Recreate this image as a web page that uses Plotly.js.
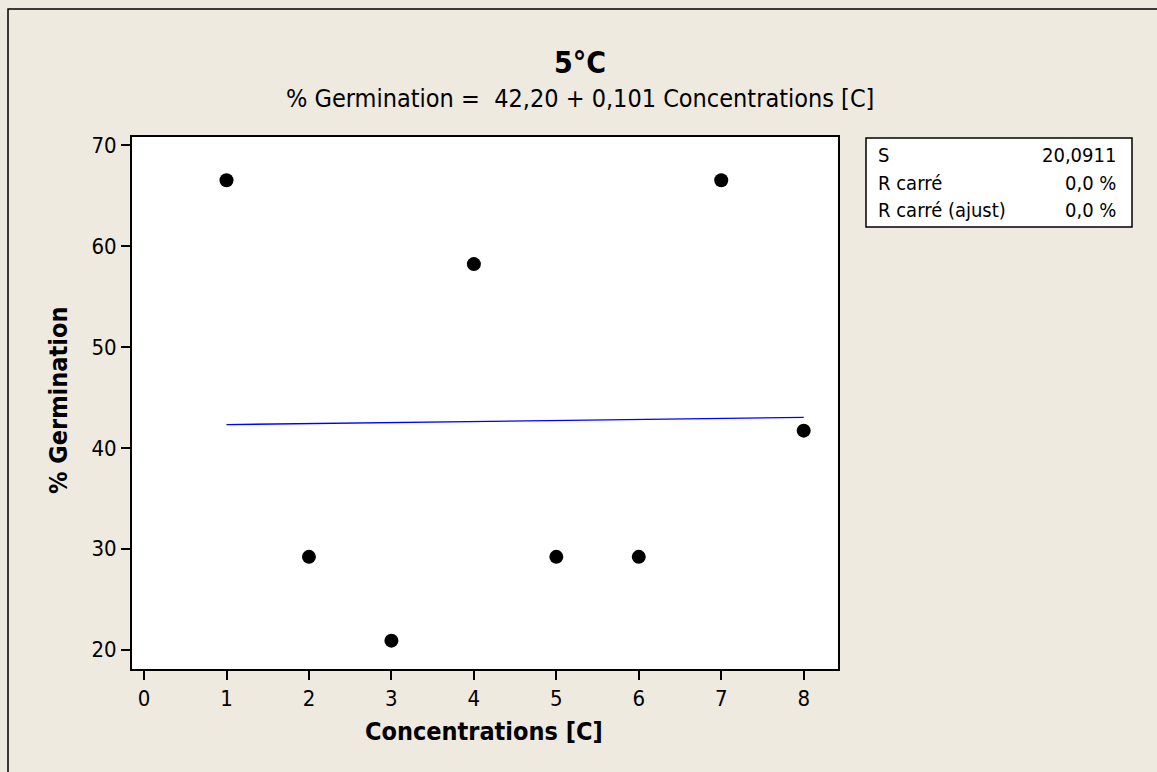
<!DOCTYPE html>
<html>
<head>
<meta charset="utf-8">
<script src="https://cdn.plot.ly/plotly-3.0.1.min.js"></script>
<style>html,body{margin:0;padding:0;background:#EEEAE0;}</style>
</head>
<body>
<div id="chart" style="width:1157px;height:772px;"></div>
<script>
// Data
const concentrations = [1, 2, 3, 4, 5, 6, 7, 8];
const germination = [66.5, 29.2, 20.9, 58.2, 29.2, 29.2, 66.5, 41.7];
// Fitted regression line: % Germination = 42,20 + 0,101 Concentrations
const fitX = [1, 8];
const fitY = [42.30, 43.01];
const xTicks = [0, 1, 2, 3, 4, 5, 6, 7, 8];
const yTicks = [20, 30, 40, 50, 60, 70];
const statLabels = ["S", "R carré", "R carré (ajust)"];
const statValues = ["20,0911", "0,0 %", "0,0 %"];

const FONT = "DejaVu Sans Condensed, DejaVu Sans, Verdana, sans-serif";

const traces = [
  {x: fitX, y: fitY, type: "scatter", mode: "lines",
   line: {color: "#0000FF", width: 1.3}, hoverinfo: "skip"},
  {x: concentrations, y: germination, type: "scatter", mode: "markers",
   marker: {color: "#000000", size: 14, symbol: "circle"}}
];

// pixel helpers: plot area 132..838 x, 137..669 y
const L = 132, R = 838, T = 137, B = 669;
const px = v => (v - L) / (R - L);
const py = v => (B - v) / (B - T);

const annotations = [
  {text: "<b>5°C</b>", xref: "paper", yref: "paper", x: px(580), y: py(63),
   showarrow: false, font: {family: FONT, size: 30, color: "#000"}, xanchor: "center", yanchor: "middle"},
  {text: "% Germination =  42,20 + 0,101 Concentrations [C]", xref: "paper", yref: "paper", x: px(580), y: py(98),
   showarrow: false, font: {family: FONT, size: 25, color: "#000"}, xanchor: "center", yanchor: "middle"},
  {text: "<b>Concentrations [C]</b>", xref: "paper", yref: "paper", x: px(484), y: py(731),
   showarrow: false, font: {family: FONT, size: 25, color: "#000"}, xanchor: "center", yanchor: "middle"},
  {text: "<b>% Germination</b>", xref: "paper", yref: "paper", x: px(58), y: py(401), textangle: -90,
   showarrow: false, font: {family: FONT, size: 25, color: "#000"}, xanchor: "center", yanchor: "middle"}
];
const rowY = [155, 183, 210];
statLabels.forEach((s, i) => {
  annotations.push({text: s, xref: "paper", yref: "paper", x: px(876), y: py(rowY[i]),
    showarrow: false, font: {family: FONT, size: 20, color: "#000"}, xanchor: "left", yanchor: "middle"});
  annotations.push({text: statValues[i], xref: "paper", yref: "paper", x: px(1118), y: py(rowY[i]),
    showarrow: false, font: {family: FONT, size: 20, color: "#000"}, xanchor: "right", yanchor: "middle"});
});

const shapes = [
  {type: "rect", xref: "paper", yref: "paper", x0: px(8), x1: px(1200), y0: py(800), y1: py(9),
   line: {color: "#000", width: 1.5}, fillcolor: "rgba(0,0,0,0)", layer: "below"},
  {type: "rect", xref: "paper", yref: "paper", x0: px(866), x1: px(1132), y0: py(227), y1: py(138),
   line: {color: "#000", width: 1.5}, fillcolor: "#FFFFFF"}
];

const layout = {
  width: 1157, height: 772,
  margin: {l: L, r: 1157 - R, t: T, b: 772 - B, pad: 0},
  paper_bgcolor: "#EEEAE0",
  plot_bgcolor: "#FFFFFF",
  showlegend: false,
  font: {family: FONT, color: "#000"},
  xaxis: {range: [-0.146, 8.416], tickvals: xTicks, ticks: "outside", ticklen: 9, tickwidth: 2,
    tickcolor: "#000", showline: true, linecolor: "#000", linewidth: 2, mirror: true,
    showgrid: false, zeroline: false, tickfont: {family: FONT, size: 22, color: "#000"}},
  yaxis: {range: [18.09, 70.79], tickvals: yTicks, ticks: "outside", ticklen: 9, tickwidth: 2,
    tickcolor: "#000", showline: true, linecolor: "#000", linewidth: 2, mirror: true,
    showgrid: false, zeroline: false, tickfont: {family: FONT, size: 22, color: "#000"}},
  annotations: annotations,
  shapes: shapes
};

Plotly.newPlot("chart", traces, layout, {displayModeBar: false, staticPlot: true});
</script>
</body>
</html>
